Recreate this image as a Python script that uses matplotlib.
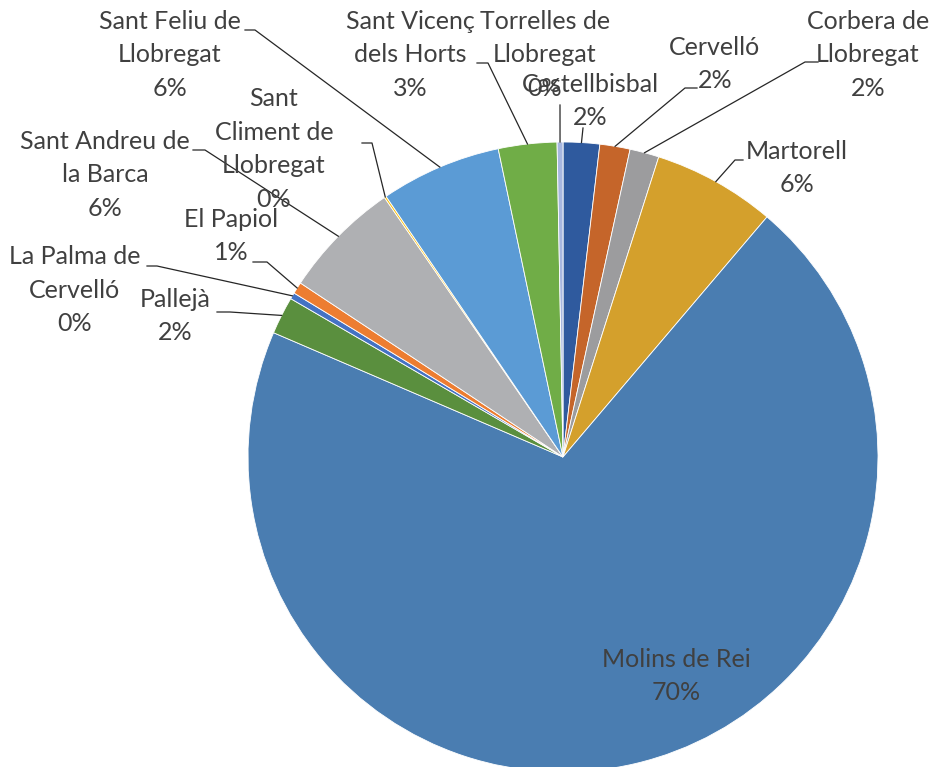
import numpy as np
import matplotlib
matplotlib.use('Agg')
import matplotlib.pyplot as plt

plt.rcParams['font.family'] = ['Lato', 'DejaVu Sans']

names = ['Castellbisbal', 'Cervelló', 'Corbera de\nLlobregat', 'Martorell',
         'Molins de Rei', 'Pallejà', 'La Palma de\nCervelló', 'El Papiol',
         'Sant Andreu de\nla Barca', 'Sant\nCliment de\nLlobregat',
         'Sant Feliu de\nLlobregat', 'Sant Vicenç\ndels Horts',
         'Torrelles de\nLlobregat']
shares = [1.87, 1.55, 1.5, 6.3, 70.3, 1.93, 0.33, 0.6, 6.1, 0.1, 6.2, 3.0, 0.3]
colors = ['#2F5A9E', '#C5652A', '#9C9C9E', '#D4A02C', '#4A7DB1', '#5A8F3E',
          '#4472C4', '#ED7D31', '#AFB0B3', '#FFC000', '#5B9BD5', '#70AD47',
          '#A7B7E0']

# layout in pixels of the 933x767 canvas (pie centre 563,457, radius 315)
cx, cy, R = 563, 457, 315
label_xy = [(590, 101), (715, 64), (868, 55), (797, 168), (676, 676),
            (175, 316), (75, 290), (231, 236), (105, 175), (274, 149),
            (170, 55), (410, 55), (545, 55)]
# leader: (label end point, elbow point) or None
leaders = [((583, 128), (583, 128)), ((697, 88), (685, 88)),
           ((818, 62), (805, 62)), ((743, 160), (735, 160)), None,
           ((217, 312), (230, 312)), ((147, 266), (157, 266)),
           ((253, 262), (267, 262)), ((193, 150), (205, 150)),
           ((362, 143), (372, 143)), ((245, 30), (255, 30)),
           ((477, 63), (488, 63)), ((560, 105), (560, 105))]


def px(p):
    return ((p[0] - cx) / R, (cy - p[1]) / R)


fig = plt.figure(figsize=(9.33, 7.67), dpi=100)
ax = fig.add_axes([(cx - R) / 933, (767 - cy - R) / 767, 2 * R / 933, 2 * R / 767])
wedges, _ = ax.pie(shares, colors=colors, startangle=90, counterclock=False,
                   radius=1, wedgeprops=dict(edgecolor='white', linewidth=0.6))
ax.set_xlim(-1, 1)
ax.set_ylim(-1, 1)
ax.set_aspect('equal')
ax.axis('off')

for w, name, v, pos, ld in zip(wedges, names, shares, label_xy, leaders):
    txt = '%s\n%d%%' % (name, int(round(v)))
    x, y = px(pos)
    ax.text(x, y, txt, ha='center', va='center', fontsize=18,
            color='#404040', linespacing=1.55)
    if ld is not None:
        mid = np.deg2rad((w.theta1 + w.theta2) / 2)
        ax0 = (np.cos(mid), np.sin(mid))
        p1, p2 = px(ld[0]), px(ld[1])
        ax.plot([p1[0], p2[0], ax0[0]], [p1[1], p2[1], ax0[1]],
                color='#262626', lw=0.9, clip_on=False)

fig.savefig('out.png', dpi=100)
